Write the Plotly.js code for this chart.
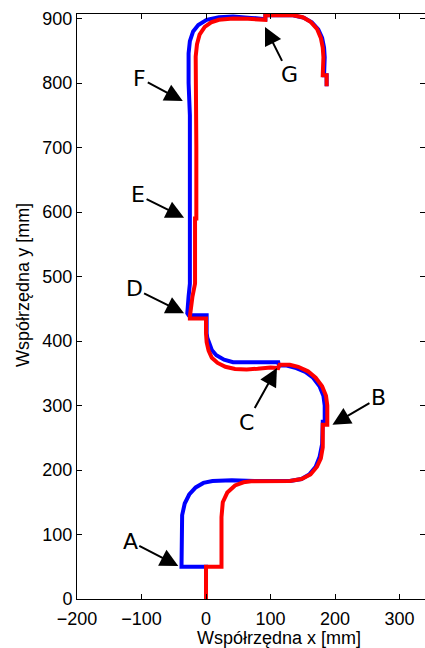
<!DOCTYPE html>
<html><head><meta charset="utf-8">
<script src="https://cdn.plot.ly/plotly-3.0.1.min.js"></script>
<style>html,body{margin:0;padding:0;background:#fff}#c{width:425px;height:648px}</style>
</head><body><div id="c"></div>
<script>
const blueX = [0,0,-38,-38,-37,-33,-26,-16,-4,10,40,75,100,130,148,160,170,176,180,181,184,184,182,176,166,154,140,125,113,112,100,80,60,42,28,16,9,5,2,1,1,-27,-29,-27,-25,-25,-25,-23.5,-24,-25,-27,-27,-25,-20,-12,1,20,42,70,92,92,135,152,164,174,180,183,184,183,187,187];
const blueY = [0,50,50,110,130,148,162,173,180,183,184,183,183,183,186,193,205,220,240,275,275,300,315,330,343,352,358,362,362,367,367,367,367,367,371,378,386,396,405,412,440,440,443,469,489,520,590,590,650,750,800,846,865,880,890,898,902,903,901,899,905,905,901,894,883,870,855,840,812,812,795];
const redX = [0,0,24,24,26,33,45,58,70,100,130,148,162,172,178,181,181,188,188,186,180,170,158,143,130,115,114,112,100,80,63,45,30,18,9,4,1,0,0,-25,-25,-21,-17,-17,-15,-15,-16,-16,-14,-10,-2,8,20,42,65,80,92,92,135,150,162,172,178,181,182,181,187,187];
const redY = [0,50,50,127,150,165,176,181,182.5,183,183,186,193,205,218,235,270,270,300,315,330,343,353,360,363,363,363,358,359,357,356,356.5,360,366,374,385,398,412,435,435,438,469,489,590,590,700,800,841,860,875,887,894,898,900,899.5,898,898,905,905,902,895,884,870,855,840,812,812,795];
const labels = ['A','B','C','D','E','F','G'];
const tipX = [-43,196,110,-34,-34,-36,91.5];
const tipY = [51,270,358,443,591,772,887];
const textDX = [-48,46,-30,-50,-46,-43,24];
const textDY = [-25,-27,54,-25,-23,-23,48];
const xTicks = [-200,-100,0,100,200,300];
const yTicks = [0,100,200,300,400,500,600,700,800,900];
const xTitle = 'Współrzędna x [mm]';
const yTitle = 'Współrzędna y [mm]';

const traces = [
  {x: blueX, y: blueY, mode:'lines', line:{color:'#0000ff', width:4}, hoverinfo:'skip'},
  {x: redX, y: redY, mode:'lines', line:{color:'#ff0000', width:4}, hoverinfo:'skip'}
];
const annotations = labels.map((t,i)=>({
  x: tipX[i], y: tipY[i], xref:'x', yref:'y', text: t,
  showarrow:true, ax: textDX[i], ay: textDY[i], axref:'pixel', ayref:'pixel',
  arrowhead:2, arrowsize:1.8, arrowwidth:2, arrowcolor:'#000',
  font:{family:'DejaVu Sans', size:22, color:'#000'}
}));
annotations.push({xref:'paper', yref:'paper', x:0.5805, y:-0.0667, xanchor:'center', yanchor:'middle',
  showarrow:false, text:xTitle, font:{family:'Liberation Sans, Arial', size:18, color:'#000'}});
annotations.push({xref:'paper', yref:'paper', x:-0.155, y:0.537, xanchor:'center', yanchor:'middle',
  showarrow:false, textangle:-90, text:yTitle, font:{family:'Liberation Sans, Arial', size:18, color:'#000'}});
const axisCommon = {showgrid:false, zeroline:false, showline:true, linecolor:'#000', linewidth:1,
  mirror:'ticks', ticks:'inside', ticklen:5, tickcolor:'#000',
  tickfont:{family:'Liberation Sans, Arial', size:18, color:'#000'}};
const layout = {
  width:425, height:648, margin:{l:77, r:0, t:14, b:49},
  paper_bgcolor:'#fff', plot_bgcolor:'#fff', showlegend:false,
  xaxis: Object.assign({}, axisCommon, {range:[-200,339.5], tickvals:xTicks, ticklabelstandoff:3}),
  yaxis: Object.assign({}, axisCommon, {range:[0,907], tickvals:yTicks}),
  annotations: annotations
};
Plotly.newPlot('c', traces, layout, {staticPlot:true, displayModeBar:false});
</script></body></html>
